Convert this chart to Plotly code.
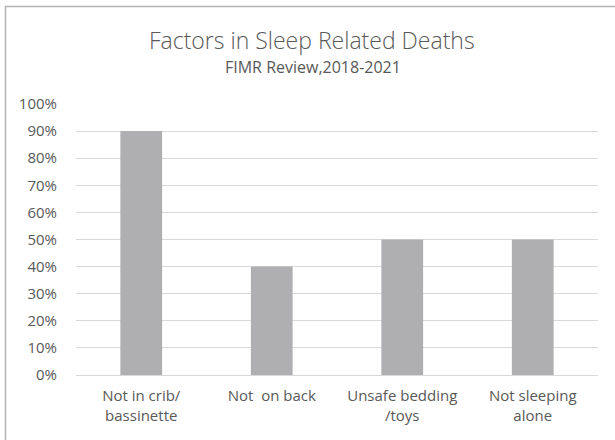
import plotly.graph_objects as go

# Data
categories = ["Not in crib/<br>bassinette", "Not  on back", "Unsafe bedding<br>/toys", "Not sleeping<br>alone"]
values = [0.90, 0.40, 0.50, 0.50]
tick_values = [i / 10 for i in range(11)]
tick_labels = [f"{i * 10}%" for i in range(11)]

W, H = 615, 440
ML, MR, MT, MB = 76, 17, 104, 65
PW, PH = W - ML - MR, H - MT - MB


def px_x(x):
    return (x - ML) / PW


def px_y(y):
    return (H - MB - y) / PH


TEXT = "#595959"
FONT = "Open Sans, sans-serif"

fig = go.Figure(
    go.Bar(
        x=categories,
        y=values,
        marker=dict(color="#AFAFB1", line=dict(width=0)),
        width=0.32,
    )
)

fig.update_layout(
    width=W,
    height=H,
    margin=dict(l=ML, r=MR, t=MT, b=MB),
    paper_bgcolor="white",
    plot_bgcolor="white",
    showlegend=False,
    font=dict(family=FONT, color=TEXT, size=15),
    xaxis=dict(
        showgrid=False,
        showline=False,
        ticks="",
        ticklabelstandoff=10,
        tickfont=dict(size=15, color=TEXT),
        fixedrange=True,
    ),
    yaxis=dict(
        range=[0, 1.0],
        tickvals=tick_values,
        ticktext=tick_labels,
        showgrid=True,
        gridcolor="#D9D9D9",
        gridwidth=1,
        zeroline=True,
        zerolinecolor="#D9D9D9",
        zerolinewidth=1,
        showline=False,
        ticks="",
        ticklabelstandoff=18,
        tickfont=dict(size=15, color=TEXT),
        fixedrange=True,
    ),
    annotations=[
        dict(
            text="Factors in Sleep Related Deaths",
            xref="paper", yref="paper",
            x=px_x(312), y=px_y(40),
            xanchor="center", yanchor="middle",
            showarrow=False,
            font=dict(size=23, color=TEXT, family=FONT, weight=300),
        ),
        dict(
            text="FIMR Review,2018-2021",
            xref="paper", yref="paper",
            x=px_x(313), y=px_y(67),
            xanchor="center", yanchor="middle",
            showarrow=False,
            font=dict(size=16, color=TEXT, family=FONT),
        ),
    ],
    shapes=[
        dict(
            type="rect",
            xref="paper", yref="paper",
            x0=px_x(5.5), x1=px_x(W + 20),
            y0=px_y(H + 20), y1=px_y(6.5),
            line=dict(color="#B4B4B4", width=1.5),
            layer="above",
        )
    ],
)

fig.write_html("out.html")
